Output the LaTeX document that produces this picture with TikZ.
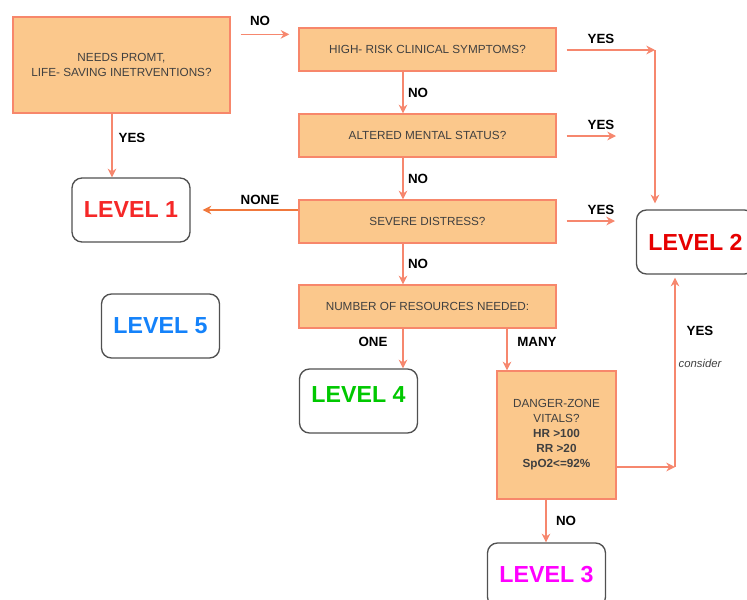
\documentclass[tikz,border=0pt]{standalone}
\usepackage{fontspec}
\setmainfont{Liberation Sans}
\usetikzlibrary{arrows.meta,calc}

\definecolor{boxfill}{RGB}{251,200,140}
\definecolor{boxdraw}{RGB}{247,135,107}
\definecolor{arrsalmon}{RGB}{246,135,110}
\definecolor{arrorange}{RGB}{240,120,60}
\definecolor{qtext}{RGB}{64,64,64}
\definecolor{lvldraw}{RGB}{80,80,80}
\definecolor{lvred}{RGB}{245,40,40}
\definecolor{lvdarkred}{RGB}{230,0,0}
\definecolor{lvblue}{RGB}{20,130,250}
\definecolor{lvgreen}{RGB}{0,200,0}
\definecolor{lvmagenta}{RGB}{255,0,255}

\tikzset{every picture/.style={line width=0.75pt}}
\tikzset{
  qbox/.style={draw=boxdraw, fill=boxfill, line width=1pt, inner sep=0pt, align=center, text=qtext, font=\fontsize{8.8}{11.5}\selectfont},
  lvltxt/.style={font=\fontsize{17.4}{20}\selectfont\bfseries},
  lvlbox/.style={draw=lvldraw, rounded corners=7.5pt, line width=1pt, minimum width=88.5pt, minimum height=48pt, inner sep=0pt, lvltxt},
  lbl/.style={inner sep=0.75pt, font=\fontsize{10}{12}\selectfont\bfseries},
  arr/.style={color=arrsalmon, line width=1.1pt, -{Stealth[length=6.5pt,width=6.5pt]}},
}

\begin{document}
\begin{tikzpicture}[x=0.75pt,y=0.75pt,yscale=-1,xscale=1]
\useasboundingbox (0,0) rectangle (747,600);
\clip (0,0) rectangle (747,600);

%Shape: Rectangle (questions)
\node[qbox, minimum width=162.75pt, minimum height=72pt] (nA) at (121.5,65) {NEEDS PROMT,\\LIFE- SAVING INETRVENTIONS?};
\node[qbox, minimum width=192.75pt, minimum height=32.25pt] (nB) at (427.5,49.5) {HIGH- RISK CLINICAL SYMPTOMS?};
\node[qbox, minimum width=192.75pt, minimum height=32.25pt] (nC) at (427.5,135.5) {ALTERED MENTAL STATUS?};
\node[qbox, minimum width=192.75pt, minimum height=32.25pt] (nD) at (427.5,221.5) {SEVERE DISTRESS?};
\node[qbox, minimum width=192.75pt, minimum height=32.25pt] (nE) at (427.5,306.5) {NUMBER OF RESOURCES NEEDED:};
\node[qbox, minimum width=89.25pt, minimum height=96pt, font=\fontsize{8.8}{11.25}\selectfont] (nF) at (556.5,435) {DANGER-ZONE\\VITALS?\\\textbf{HR >100}\\\textbf{RR >20}\\\textbf{SpO2<=92\%}};

%Shape: Rounded Rect (levels)
\node[lvlbox, text=lvred] (nL1) at (131,210) {LEVEL 1};
\node[lvlbox, text=lvdarkred] (nL2) at (695.5,242) {LEVEL 2};
\node[lvlbox, text=lvmagenta] (nL3) at (546.5,575) {LEVEL 3};
\node[lvlbox, label={[lvltxt, text=lvgreen, yshift=4.5pt]center:LEVEL 4}] (nL4) at (358.5,401) {};
\node[lvlbox, text=lvblue] (nL5) at (160.5,326) {LEVEL 5};

%Straight Lines
\draw[arr] ($(nA.north east)+(10,18)$) -- ($(nB.north west)+(-9,7)$);
\draw[arr] (112,0 |- nA.south) -- (112,0 |- nL1.north);
\draw[arr] (403,0 |- nB.south) -- (403,0 |- nC.north);
\draw[arr] (403,0 |- nC.south) -- (403,0 |- nD.north);
\draw[arr] (403,0 |- nD.south) -- (403,0 |- nE.north);
\draw[arr, color=arrorange] (nD.west |- nL1.east) -- ([xshift=9pt]nL1.east);
\coordinate (kB) at (655,50);
\draw[arr] ($(nB.east |- kB)+(10,0)$) -- (kB);
\draw[arr] (kB) -- ($(kB |- nL2.north)+(0,-6)$);
\coordinate (kC) at (616,136);
\draw[arr] ($(nC.east |- kC)+(10,0)$) -- (kC);
\coordinate (kD) at (615,221);
\draw[arr] ($(nD.east |- kD)+(10,0)$) -- (kD);
\draw[arr] (403,0 |- nE.south) -- (403,0 |- nL4.north);
\draw[arr] (507,0 |- nE.south) -- (507,0 |- nF.north);
\coordinate (kF) at (675,467);
\draw[arr] (nF.east |- kF) -- (kF);
\draw[arr] (kF) -- ($(kF |- nL2.south)+(0,3)$);
\draw[arr] (546,0 |- nF.south) -- (546,0 |- nL3.north);

% Text Node
\node[lbl] (tNoA) at (260,20.5) {NO};
\node[lbl] (tYesA) at (132,138) {YES};
\node[lbl] (tNoB) at (418,92.5) {NO};
\node[lbl] (tNoC) at (418,178.5) {NO};
\node[lbl] (tNoD) at (418,264) {NO};
\node[lbl] (tNone) at (260,199.5) {NONE};
\node[lbl] (tYesB) at (601,39) {YES};
\node[lbl] (tYesC) at (601,124.5) {YES};
\node[lbl] (tYesD) at (601,210) {YES};
\node[lbl] (tOne) at (373,342) {ONE};
\node[lbl] (tMany) at (537,342) {MANY};
\node[lbl] (tYesF) at (700,331) {YES};
\node[inner sep=0.75pt, text=qtext, font=\fontsize{8.5}{10}\selectfont\itshape] (tCons) at (700,363) {consider};
\node[lbl] (tNoF) at (566,521) {NO};

\end{tikzpicture}
\end{document}
